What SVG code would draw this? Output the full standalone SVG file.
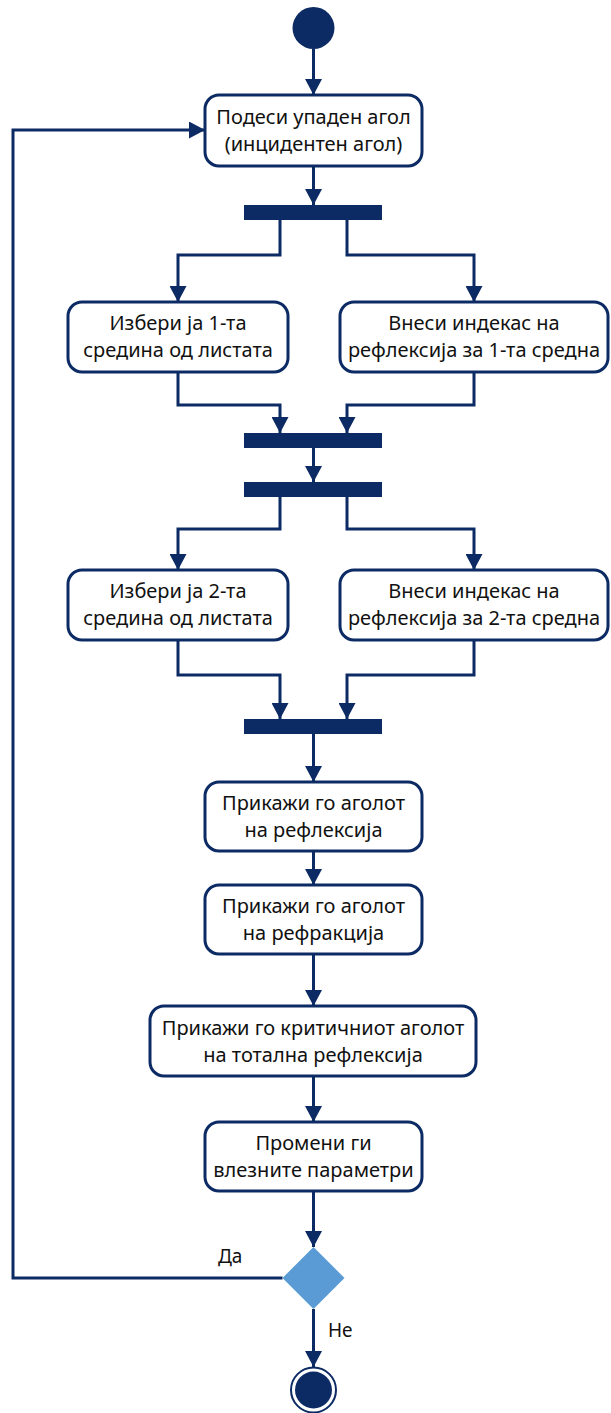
<svg xmlns="http://www.w3.org/2000/svg" width="611" height="1413" viewBox="0 0 611 1413">
  <style>
    .act { fill: #ffffff; stroke: #0c2a63; stroke-width: 3; }
    .bar { fill: #0c2a63; }
    .lbl { font-family: "Noto Sans", "Liberation Sans", sans-serif; font-size: 20px; fill: #111111; text-anchor: middle; }
    .guard { font-family: "Noto Sans", "Liberation Sans", sans-serif; font-size: 19px; fill: #111111; }
    .flow { fill: none; stroke: #0c2a63; stroke-width: 3; stroke-linejoin: miter; }
  </style>
  <defs>
    <marker id="arrow" viewBox="0 0 16 17" refX="16" refY="8.5" markerWidth="16" markerHeight="17" markerUnits="userSpaceOnUse" orient="auto">
      <path d="M0,0 L16,8.5 L0,17 z" fill="#0c2a63"/>
    </marker>
  </defs>

  <rect width="611" height="1413" fill="#ffffff"/>

  <!-- connectors -->
  <g id="connectors" class="flow" marker-end="url(#arrow)">
    <path d="M313.5,49 V95"/>
    <path d="M313.5,166 V205"/>
    <path d="M280,220 V255 H178 V302"/>
    <path d="M347,220 V255 H474 V302"/>
    <path d="M178,372 V405 H280 V433"/>
    <path d="M474,372 V405 H347 V433"/>
    <path d="M313.5,448 V482"/>
    <path d="M280,497 V529 H178 V570"/>
    <path d="M347,497 V529 H474 V570"/>
    <path d="M178,640 V675 H280 V719"/>
    <path d="M474,640 V675 H347 V719"/>
    <path d="M313.5,734 V782"/>
    <path d="M313.5,851 V885"/>
    <path d="M313.5,954 V1006"/>
    <path d="M313.5,1076 V1122"/>
    <path d="M313.5,1191 V1247"/>
    <path d="M282.5,1278 H13 V130 H205"/>
    <path d="M313.5,1309 V1367"/>
  </g>

  <!-- guard labels -->
  <text class="guard" x="218" y="1263">Да</text>
  <text class="guard" x="328" y="1337">Не</text>

  <!-- initial node -->
  <g id="start">
    <circle cx="313.5" cy="28" r="21" fill="#0c2a63"/>
  </g>

  <g id="set-angle">
    <rect class="act" x="205" y="95" width="217" height="71" rx="14"/>
    <text class="lbl" x="313.5" y="124">Подеси упаден агол</text>
    <text class="lbl" x="313.5" y="151">(инцидентен агол)</text>
  </g>

  <g id="fork1"><rect class="bar" x="244" y="205" width="138" height="15"/></g>

  <g id="choose-medium-1">
    <rect class="act" x="68" y="302" width="220" height="70" rx="14"/>
    <text class="lbl" x="178" y="330">Избери ја 1-та</text>
    <text class="lbl" x="178" y="357">средина од листата</text>
  </g>

  <g id="enter-index-1">
    <rect class="act" x="340" y="302" width="268" height="70" rx="14"/>
    <text class="lbl" x="474" y="330">Внеси индекас на</text>
    <text class="lbl" x="474" y="357">рефлексија за 1-та средна</text>
  </g>

  <g id="join1"><rect class="bar" x="244" y="433" width="138" height="15"/></g>
  <g id="fork2"><rect class="bar" x="244" y="482" width="138" height="15"/></g>

  <g id="choose-medium-2">
    <rect class="act" x="68" y="570" width="220" height="70" rx="14"/>
    <text class="lbl" x="178" y="598">Избери ја 2-та</text>
    <text class="lbl" x="178" y="625">средина од листата</text>
  </g>

  <g id="enter-index-2">
    <rect class="act" x="340" y="570" width="268" height="70" rx="14"/>
    <text class="lbl" x="474" y="598">Внеси индекас на</text>
    <text class="lbl" x="474" y="625">рефлексија за 2-та средна</text>
  </g>

  <g id="join2"><rect class="bar" x="244" y="719" width="138" height="15"/></g>

  <g id="show-reflection">
    <rect class="act" x="205" y="782" width="217" height="69" rx="14"/>
    <text class="lbl" x="313.5" y="810">Прикажи го аголот</text>
    <text class="lbl" x="313.5" y="837">на рефлексија</text>
  </g>

  <g id="show-refraction">
    <rect class="act" x="205" y="885" width="217" height="69" rx="14"/>
    <text class="lbl" x="313.5" y="913">Прикажи го аголот</text>
    <text class="lbl" x="313.5" y="940">на рефракција</text>
  </g>

  <g id="show-critical">
    <rect class="act" x="150" y="1006" width="326" height="70" rx="14"/>
    <text class="lbl" x="313" y="1035">Прикажи го критичниот аголот</text>
    <text class="lbl" x="313" y="1062">на тотална рефлексија</text>
  </g>

  <g id="change-params">
    <rect class="act" x="205" y="1122" width="217" height="69" rx="14"/>
    <text class="lbl" x="313.5" y="1150">Промени ги</text>
    <text class="lbl" x="313.5" y="1177">влезните параметри</text>
  </g>

  <g id="decision">
    <path d="M313.5,1247 L344.5,1278 L313.5,1309 L282.5,1278 z" fill="#5b9bd5"/>
  </g>

  <!-- final node -->
  <g id="end">
    <circle cx="313.5" cy="1390" r="22.5" fill="#ffffff" stroke="#0c2a63" stroke-width="2"/>
    <circle cx="313.5" cy="1390" r="18.5" fill="#0c2a63"/>
  </g>
</svg>
